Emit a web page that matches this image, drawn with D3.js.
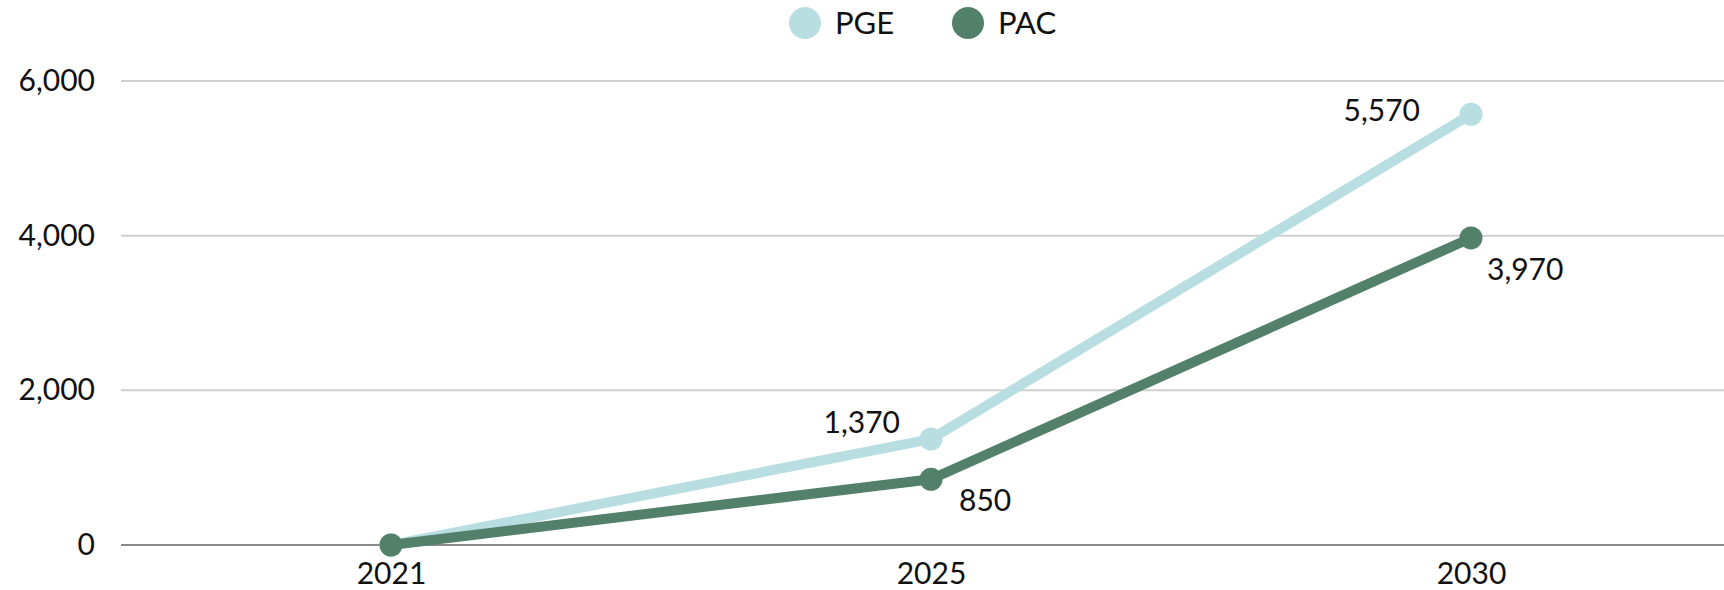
<!DOCTYPE html>
<html>
<head>
<meta charset="utf-8">
<script src="https://cdn.jsdelivr.net/npm/d3@7"></script>
<style>
  body { margin: 0; background: #fff; }
  text { font-family: Lato, sans-serif; fill: #111; }
</style>
</head>
<body>
<svg id="chart"></svg>
<script>
var years = ["2021", "2025", "2030"];
var pge = [0, 1370, 5570];
var pac = [0, 850, 3970];
var yTicks = [0, 2000, 4000, 6000];
var seriesNames = ["PGE", "PAC"];

var width = 1724, height = 590;
var margin = {top: 81, right: 0, bottom: 45, left: 121};

var svg = d3.select("#chart")
    .attr("width", width)
    .attr("height", height);

var x = d3.scalePoint()
    .domain(years)
    .range([margin.left, margin.left + 1620])
    .padding(0.5);

var y = d3.scaleLinear()
    .domain([0, 6000])
    .range([height - margin.bottom, margin.top]);

var colors = {PGE: "#b9dee1", PAC: "#52806b"};

// gridlines
svg.append("g")
    .selectAll("line")
    .data(yTicks)
    .join("line")
    .attr("x1", margin.left)
    .attr("x2", width)
    .attr("y1", function(d) { return y(d); })
    .attr("y2", function(d) { return y(d); })
    .attr("stroke", function(d) { return d == 0 ? "#8a8a8a" : "#cfcfcf"; })
    .attr("stroke-width", 2);

// y axis labels
var yAxis = svg.append("g")
    .attr("transform", "translate(" + margin.left + ",0)")
    .call(d3.axisLeft(y).tickValues(yTicks).tickFormat(d3.format(",")).tickSize(0).tickPadding(26));
yAxis.select(".domain").remove();
yAxis.selectAll("text")
    .style("font-family", "Lato, sans-serif")
    .style("font-size", "30px")
    .attr("fill", "#111");

// x axis labels
var xAxis = svg.append("g")
    .attr("transform", "translate(0," + y(0) + ")")
    .call(d3.axisBottom(x).tickSize(0).tickPadding(18));
xAxis.select(".domain").remove();
xAxis.selectAll("text")
    .style("font-family", "Lato, sans-serif")
    .style("font-size", "30px")
    .attr("fill", "#111");

var line = d3.line()
    .x(function(d, i) { return x(years[i]); })
    .y(function(d) { return y(d); });

function drawSeries(name, values) {
    svg.append("path")
        .datum(values)
        .attr("fill", "none")
        .attr("stroke", colors[name])
        .attr("stroke-width", 10)
        .attr("stroke-linejoin", "round")
        .attr("d", line);
    svg.append("g")
        .selectAll("circle")
        .data(values)
        .join("circle")
        .attr("cx", function(d, i) { return x(years[i]); })
        .attr("cy", function(d) { return y(d); })
        .attr("r", 11.5)
        .attr("fill", colors[name]);
}
drawSeries("PGE", pge);
drawSeries("PAC", pac);

// value labels (skip the zero start)
var fmt = d3.format(",");
var pgeOffsets = [null, [-31, -17], [-51, -4]];
var pacOffsets = [null, [28, 21], [16, 32]];
function drawLabels(values, offsets, anchor) {
    values.forEach(function(v, i) {
        if (!offsets[i]) return;
        svg.append("text")
            .attr("x", x(years[i]) + offsets[i][0])
            .attr("y", y(v) + offsets[i][1])
            .attr("dy", "0.35em")
            .attr("text-anchor", anchor)
            .style("font-size", "30px")
            .text(fmt(v));
    });
}
drawLabels(pge, pgeOffsets, "end");
drawLabels(pac, pacOffsets, "start");

// legend
var legend = svg.append("g");
var legendX = [805, 968];
seriesNames.forEach(function(name, i) {
    legend.append("circle")
        .attr("cx", legendX[i])
        .attr("cy", 23)
        .attr("r", 16)
        .attr("fill", colors[name]);
    legend.append("text")
        .attr("x", legendX[i] + 30)
        .attr("y", 23)
        .attr("dy", "0.35em")
        .style("font-size", "31px")
        .text(name);
});
</script>
</body>
</html>
